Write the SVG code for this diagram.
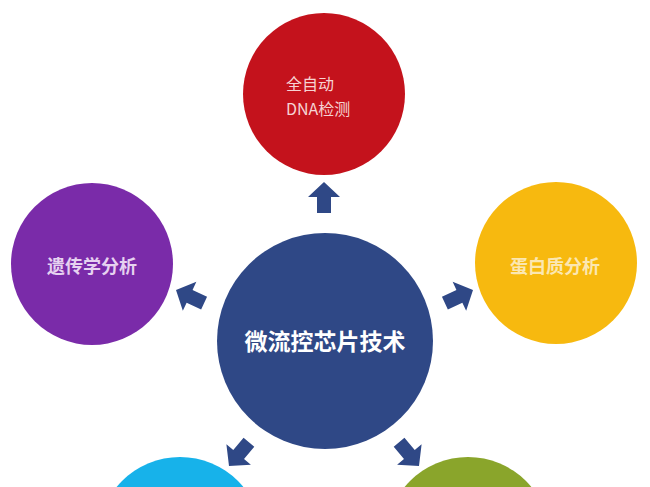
<svg xmlns="http://www.w3.org/2000/svg" xmlns:xlink="http://www.w3.org/1999/xlink" width="650" height="487" viewBox="0 0 650 487">
  <style>
    text { font-family: "Noto Sans CJK SC", "Liberation Sans", sans-serif; dominant-baseline: central; }
    .lbl { font-size: 18px; font-weight: bold; text-anchor: middle; }
    .arrow { fill: #2F4886; }
  </style>
  <defs>
    <polygon id="arr" points="0,0 16,15 7,15 7,31 -7,31 -7,15 -16,15"/>
  </defs>
  <rect width="650" height="487" fill="#FFFFFF"/>
  <g id="connectors" class="arrow">
    <use xlink:href="#arr" transform="translate(324,182)"/>
    <use xlink:href="#arr" transform="translate(176,290) rotate(-65)"/>
    <use xlink:href="#arr" transform="translate(473,290) rotate(65)"/>
    <use xlink:href="#arr" transform="translate(229,466) rotate(-140)"/>
    <use xlink:href="#arr" transform="translate(419,466) rotate(140)"/>
  </g>
  <g id="node-dna">
    <circle cx="324" cy="94" r="81" fill="#C4121C"/>
    <text x="286" y="83" font-size="16" fill="#F6D3D3">全自动</text>
    <text x="286" y="108" font-size="16" fill="#F6D3D3">DNA检测</text>
  </g>
  <g id="node-genetics">
    <circle cx="92" cy="264" r="81" fill="#7A2BA9"/>
    <text class="lbl" x="92" y="265" fill="#E6D2F0">遗传学分析</text>
  </g>
  <g id="node-protein">
    <circle cx="556" cy="263" r="81" fill="#F7B90F"/>
    <text class="lbl" x="555" y="265" fill="#FBE7B2" font-weight="normal">蛋白质分析</text>
  </g>
  <g id="node-center">
    <circle cx="325" cy="341" r="108" fill="#2F4886"/>
    <text x="325" y="340" font-size="23" font-weight="bold" text-anchor="middle" fill="#FFFFFF">微流控芯片技术</text>
  </g>
  <g id="node-cyan">
    <circle cx="180" cy="539" r="82" fill="#17B2EA"/>
  </g>
  <g id="node-green">
    <circle cx="468" cy="539" r="82" fill="#8AA52B"/>
  </g>
</svg>
